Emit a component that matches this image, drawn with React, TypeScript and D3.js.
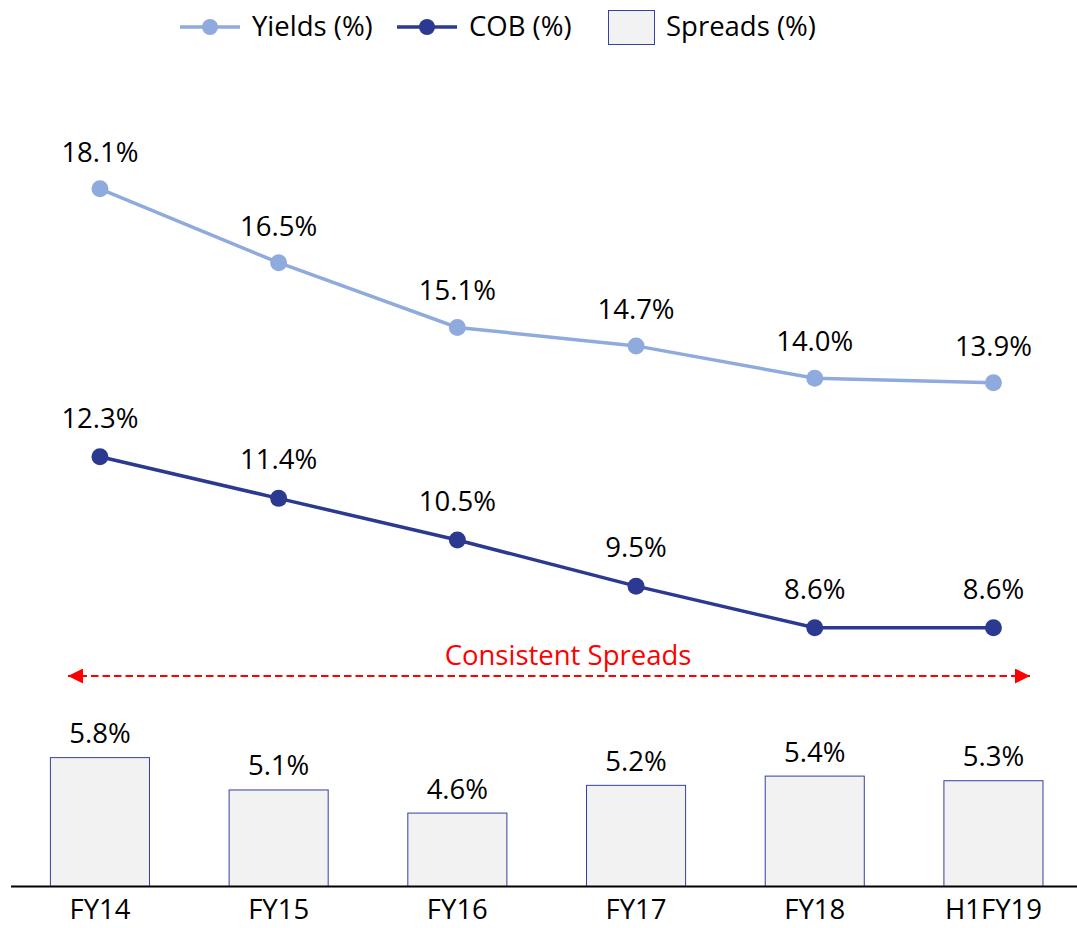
import React from "react";
import * as d3 from "d3";

const categories = ["FY14", "FY15", "FY16", "FY17", "FY18", "H1FY19"];
const yields = [18.1, 16.5, 15.1, 14.7, 14.0, 13.9];
const cob = [12.3, 11.4, 10.5, 9.5, 8.6, 8.6];
const spreads = [5.8, 5.1, 4.6, 5.2, 5.4, 5.3];
const legendLabels = ["Yields (%)", "COB (%)", "Spreads (%)"];
const annotation = "Consistent Spreads";

const W = 1077;
const H = 928;
const FONT = "'Open Sans', sans-serif";
const YIELD_COLOR = "#8FAADC";
const COB_COLOR = "#2B3990";
const BAR_FILL = "#F2F2F2";
const BAR_STROKE = "#3341A0";

export default function App() {
  const x = d3.scaleBand<string>().domain(categories).range([10.6, 1082.8]).padding(0);
  const cx = (c: string) => (x(c) as number) + x.bandwidth() / 2;
  const y = d3.scaleLinear().domain([3, 20]).range([886.5, 101]);
  const barW = x.bandwidth() * 0.56;

  const line = d3
    .line<number>()
    .x((_, i) => cx(categories[i]))
    .y((d) => y(d));

  const fmt = (v: number) => v.toFixed(1) + "%";
  const fs = 27.5;

  return (
    <svg
      width={W}
      height={H}
      style={{ position: "absolute", left: 0, top: 0, background: "#fff" }}
      fontFamily={FONT}
    >
      <defs>
        <marker id="arrowR" viewBox="0 0 10 10" refX="10" refY="5" markerWidth="15" markerHeight="15" markerUnits="userSpaceOnUse" orient="auto">
          <path d="M0,0 L10,5 L0,10 Z" fill="#FF0000" />
        </marker>
        <marker id="arrowL" viewBox="0 0 10 10" refX="0" refY="5" markerWidth="15" markerHeight="15" markerUnits="userSpaceOnUse" orient="auto">
          <path d="M10,0 L0,5 L10,10 Z" fill="#FF0000" />
        </marker>
      </defs>

      {/* Legend */}
      <g>
        <line x1={180} x2={240} y1={27} y2={27} stroke={YIELD_COLOR} strokeWidth={3.5} />
        <circle cx={210} cy={27} r={8} fill={YIELD_COLOR} />
        <text x={252} y={36} fontSize={fs} fill="#000">{legendLabels[0]}</text>
        <line x1={397} x2={457} y1={27} y2={27} stroke={COB_COLOR} strokeWidth={3.5} />
        <circle cx={427} cy={27} r={8} fill={COB_COLOR} />
        <text x={469} y={36} fontSize={fs} fill="#000">{legendLabels[1]}</text>
        <rect x={608.5} y={10.5} width={46} height={34} fill={BAR_FILL} stroke={BAR_STROKE} strokeWidth={1} />
        <text x={666} y={36} fontSize={fs} fill="#000">{legendLabels[2]}</text>
      </g>

      {/* Bars */}
      {spreads.map((v, i) => {
        const c = categories[i];
        return (
          <g key={c}>
            <rect
              x={cx(c) - barW / 2 + 0.5}
              y={y(v) + 0.5}
              width={barW - 1}
              height={y(3) - y(v) - 0.5}
              fill={BAR_FILL}
              stroke={BAR_STROKE}
              strokeWidth={1}
            />
            <text x={cx(c)} y={y(v) - 14} textAnchor="middle" fontSize={fs} fill="#000">
              {fmt(v)}
            </text>
          </g>
        );
      })}

      {/* Axis line */}
      <line x1={11} x2={W} y1={886.5} y2={886.5} stroke="#000" strokeWidth={2} />
      {categories.map((c) => (
        <text key={c} x={cx(c)} y={919} textAnchor="middle" fontSize={fs} fill="#000">
          {c}
        </text>
      ))}

      {/* Yields line */}
      <path d={line(yields) as string} fill="none" stroke={YIELD_COLOR} strokeWidth={3.5} />
      {yields.map((v, i) => (
        <g key={"y" + i}>
          <circle cx={cx(categories[i])} cy={y(v)} r={8.5} fill={YIELD_COLOR} />
          <text x={cx(categories[i])} y={y(v) - 27} textAnchor="middle" fontSize={fs} fill="#000">
            {fmt(v)}
          </text>
        </g>
      ))}

      {/* COB line */}
      <path d={line(cob) as string} fill="none" stroke={COB_COLOR} strokeWidth={3.5} />
      {cob.map((v, i) => (
        <g key={"c" + i}>
          <circle cx={cx(categories[i])} cy={y(v)} r={8.5} fill={COB_COLOR} />
          <text x={cx(categories[i])} y={y(v) - 29} textAnchor="middle" fontSize={fs} fill="#000">
            {fmt(v)}
          </text>
        </g>
      ))}

      {/* Consistent spreads annotation */}
      <line
        x1={68}
        x2={1030}
        y1={676}
        y2={676}
        stroke="#FF0000"
        strokeWidth={2.2}
        strokeDasharray="7.5,4"
        markerStart="url(#arrowL)"
        markerEnd="url(#arrowR)"
      />
      <text x={568} y={665} textAnchor="middle" fontSize={fs} fill="#FF0000">
        {annotation}
      </text>
    </svg>
  );
}
